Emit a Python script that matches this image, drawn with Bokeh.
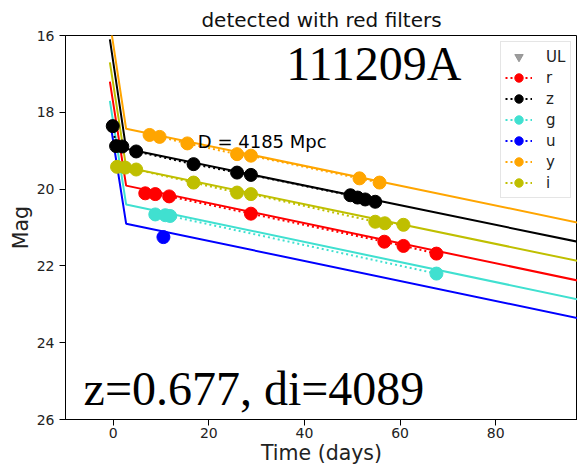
from bokeh.plotting import figure
from bokeh.models import Range1d, Label, Legend, LegendItem, FixedTicker
from bokeh.embed import file_html
from bokeh.resources import INLINE

# ---------------- data ----------------
title_text = "detected with red filters"
grb_name = "111209A"
z_text = "z=0.677, di=4089"
d_text = "D = 4185 Mpc"

filters = ["r", "z", "g", "u", "y", "i"]
colors = {"r": "#ff0000", "z": "#000000", "g": "#40e0d0",
          "u": "#0000ff", "y": "#ffa500", "i": "#bfbf00"}

# observed points (days, mag)
t_r = [6.7, 8.8, 11.7, 28.8, 56.7, 60.7, 67.6]
m_r = [20.11, 20.13, 20.19, 20.64, 21.37, 21.48, 21.68]
t_z = [-0.1, 0.6, 1.9, 4.8, 16.8, 25.9, 28.8, 49.6, 51.1, 52.7, 54.8]
m_z = [18.36, 18.88, 18.89, 19.02, 19.35, 19.57, 19.63, 20.16, 20.22, 20.27, 20.33]
t_g = [8.8, 10.9, 11.9, 67.6]
m_g = [20.66, 20.68, 20.70, 22.20]
t_u = [10.5]
m_u = [21.25]
t_y = [7.6, 9.7, 15.5, 25.9, 28.8, 51.5, 55.7]
m_y = [18.59, 18.64, 18.81, 19.09, 19.13, 19.72, 19.83]
t_i = [0.8, 2.5, 4.8, 16.8, 25.9, 28.8, 54.8, 56.8, 60.7]
m_i = [19.42, 19.44, 19.49, 19.83, 20.09, 20.13, 20.85, 20.89, 20.93]

# upper limits (none in this panel: a single missing value keeps the legend entry)
t_ul = [float("nan")]
m_ul = [float("nan")]

# model curves (days, mag)
model_t = [-0.7, 2.7, 97.1]
model_r = [17.20, 19.91, 22.38]
model_z = [16.10, 18.95, 21.37]
model_g = [17.70, 20.40, 22.87]
model_u = [18.20, 20.90, 23.36]
model_y = [15.65, 18.43, 20.87]
model_i = [16.70, 19.43, 21.87]

obs = {"r": (t_r, m_r), "z": (t_z, m_z), "g": (t_g, m_g),
       "u": (t_u, m_u), "y": (t_y, m_y), "i": (t_i, m_i)}
models = {"r": model_r, "z": model_z, "g": model_g,
          "u": model_u, "y": model_y, "i": model_i}

x_ticks = [0, 20, 40, 60, 80]
y_ticks = [16, 18, 20, 22, 24, 26]

# ---------------- figure ----------------
p = figure(width=577, height=468, output_backend="svg", toolbar_location=None,
           x_range=Range1d(-9.98, 97.1), y_range=Range1d(26, 16),
           min_border_left=65, min_border_right=0, min_border_top=35,
           min_border_bottom=49, title=title_text)

p.title.align = "center"
p.title.text_font = "DejaVu Sans"
p.title.text_font_size = "20px"
p.title.text_font_style = "normal"
p.title.text_color = "#111111"
p.title.standoff = 8

p.background_fill_color = "white"
p.border_fill_color = "white"
p.outline_line_color = "black"
p.outline_line_width = 1
p.xgrid.visible = False
p.ygrid.visible = False

p.xaxis.ticker = FixedTicker(ticks=x_ticks)
p.yaxis.ticker = FixedTicker(ticks=y_ticks)
for ax in (p.xaxis[0], p.yaxis[0]):
    ax.axis_line_color = "black"
    ax.major_tick_line_color = "black"
    ax.major_tick_out = 6
    ax.major_tick_in = 0
    ax.minor_tick_out = 0
    ax.minor_tick_in = 0
    ax.major_label_text_font = "DejaVu Sans"
    ax.major_label_text_font_size = "14px"
    ax.major_label_text_color = "#222222"
    ax.major_label_standoff = 5
    ax.axis_label_text_font = "DejaVu Sans"
    ax.axis_label_text_font_size = "20.5px"
    ax.axis_label_text_font_style = "normal"
    ax.axis_label_text_color = "#222222"
p.xaxis.major_label_standoff = 2
p.xaxis.axis_label = "Time (days)"
p.yaxis.axis_label = "Mag"
p.xaxis.axis_label_standoff = 0
p.yaxis.axis_label_standoff = 1

# model lines first (behind the data)
for f in filters:
    p.line(model_t, models[f], line_color=colors[f], line_width=2)

items = []
ul = p.scatter(x=t_ul, y=m_ul, marker="inverted_triangle", size=15,
               color="#8c8c8c", alpha=0.85)
items.append(LegendItem(label="UL", renderers=[ul]))

for f in filters:
    c = colors[f]
    t, m = obs[f]
    ln = p.line(t, m, line_color=c, line_width=2, line_dash="2 3")
    sc = p.scatter(t, m, marker="circle", size=13, fill_color=c, line_color=c)
    items.append(LegendItem(label=f, renderers=[ln, sc]))

legend = Legend(items=items, location="top_right")
legend.margin = 6
legend.padding = 4
legend.spacing = 0
legend.glyph_width = 27
legend.glyph_height = 21
legend.label_height = 21
legend.label_standoff = 14
legend.label_text_font = "DejaVu Sans"
legend.label_text_font_size = "15px"
legend.label_text_color = "#222222"
legend.border_line_color = "#cccccc"
legend.border_line_width = 1
legend.background_fill_alpha = 0.8
p.add_layout(legend)

p.add_layout(Label(x=36.2, y=16.74, text=grb_name, text_font="Liberation Serif",
                   text_font_size="48px", text_baseline="alphabetic",
                   text_color="black"))
p.add_layout(Label(x=-6.2, y=25.18, text=z_text, text_font="Liberation Serif",
                   text_font_size="48px", text_baseline="alphabetic",
                   text_color="black"))
p.add_layout(Label(x=17.7, y=18.76, text=d_text, text_font="DejaVu Sans",
                   text_font_size="18px", text_baseline="alphabetic",
                   text_color="black"))

open("out.html", "w").write(file_html(p, INLINE))
